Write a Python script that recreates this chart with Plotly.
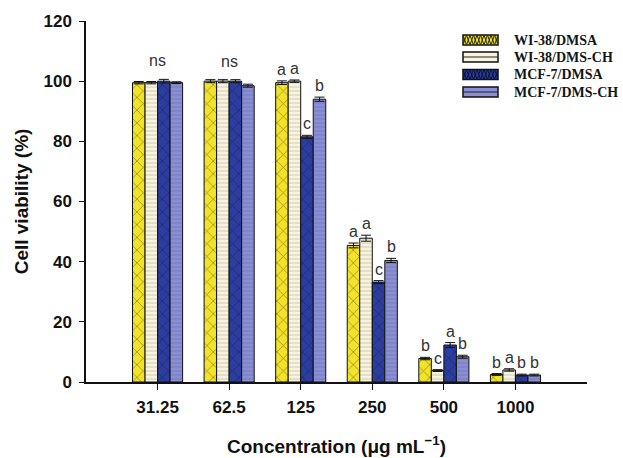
import plotly.graph_objects as go

categories = ["31.25", "62.5", "125", "250", "500", "1000"]
series_names = ["WI-38/DMSA", "WI-38/DMS-CH", "MCF-7/DMSA", "MCF-7/DMS-CH"]
wi38_dmsa = [99.5, 100.0, 99.5, 45.4, 7.8, 2.5]
wi38_dmsch = [99.5, 100.0, 100.0, 47.8, 3.8, 4.0]
mcf7_dmsa = [100.0, 100.0, 81.5, 33.2, 12.3, 2.3]
mcf7_dmsch = [99.5, 98.5, 94.0, 40.4, 8.4, 2.3]
err_wi38_dmsa = [0.4, 0.5, 0.6, 0.8, 0.4, 0.3]
err_wi38_dmsch = [0.4, 0.5, 0.4, 1.0, 0.3, 0.4]
err_mcf7_dmsa = [0.6, 0.5, 0.5, 0.5, 0.8, 0.3]
err_mcf7_dmsch = [0.3, 0.5, 0.7, 0.7, 0.5, 0.3]
letters_wi38_dmsa = ["", "", "a", "a", "b", "b"]
letters_wi38_dmsch = ["", "", "a", "a", "c", "a"]
letters_mcf7_dmsa = ["", "", "c", "c", "a", "b"]
letters_mcf7_dmsch = ["", "", "b", "b", "b", "b"]
group_labels = ["ns", "ns", "", "", "", ""]

values = [wi38_dmsa, wi38_dmsch, mcf7_dmsa, mcf7_dmsch]
errors = [err_wi38_dmsa, err_wi38_dmsch, err_mcf7_dmsa, err_mcf7_dmsch]
letters = [letters_wi38_dmsa, letters_wi38_dmsch, letters_mcf7_dmsa, letters_mcf7_dmsch]

colors = ["#f2e22a", "#f8f3dc", "#2b3d9e", "#8a8ed2"]
pattern_shapes = ["x", "-", "x", "-"]
pattern_fg = ["#2a2a18", "#6a6a60", "#0c1238", "#474b96"]
pattern_size = [9, 4, 9, 4]

W, H = 623, 458
ML, MR, MT, MB = 86, 36, 21, 76
PW, PH = W - ML - MR, H - MT - MB

xpos = list(range(len(categories)))
bargap = 0.30
bar_w = (1 - bargap) / 4

fig = go.Figure()
for k in range(4):
    fig.add_trace(go.Bar(
        x=xpos, y=values[k], name=series_names[k], showlegend=False,
        marker=dict(color=colors[k], line=dict(color="#111111", width=1),
                    pattern=dict(shape=pattern_shapes[k], fgcolor=pattern_fg[k],
                                 size=pattern_size[k], solidity=0.15, fillmode="overlay")),
        error_y=dict(type="data", array=errors[k], visible=True, color="#111111",
                     thickness=1, width=5),
    ))

label_font = dict(family="Liberation Sans, Arial", size=16, color="#333333")
annotations = []
for k in range(4):
    off = -0.5 * (1 - bargap) + bar_w * (k + 0.5)
    for i in range(len(categories)):
        if letters[k][i]:
            annotations.append(dict(
                x=xpos[i] + off, y=values[k][i] + errors[k][i], text=letters[k][i],
                showarrow=False, yanchor="bottom", yshift=1, font=label_font))
for i in range(len(categories)):
    if group_labels[i]:
        top = max(values[k][i] + errors[k][i] for k in range(4))
        annotations.append(dict(
            x=xpos[i], y=top, text=group_labels[i], showarrow=False,
            yanchor="bottom", yshift=8, font=label_font))

# ---- manual legend (paper coords from pixel layout) ----
def px(xp):
    return (xp - ML) / PW

def py(yp):
    return (MT + PH - yp) / PH

shapes = []
leg_x0, leg_x1 = 463, 498
leg_rows = [40, 57, 74.5, 92]
for k in range(4):
    yc = leg_rows[k]
    y0, y1 = yc - 5, yc + 5
    shapes.append(dict(type="rect", xref="paper", yref="paper",
                       x0=px(leg_x0), x1=px(leg_x1), y0=py(y1), y1=py(y0),
                       fillcolor=colors[k], line=dict(color="#111111", width=1.5)))
    if pattern_shapes[k] == "-":
        shapes.append(dict(type="line", xref="paper", yref="paper",
                           x0=px(leg_x0), x1=px(leg_x1), y0=py(yc), y1=py(yc),
                           line=dict(color="#222222", width=1.2)))
    else:
        step = 7.0
        pts_a = []
        pts_b = []
        xx = leg_x0
        j = 0
        while xx <= leg_x1 + 0.01:
            pts_a.append((xx, y0 if j % 2 == 0 else y1))
            pts_b.append((xx, y1 if j % 2 == 0 else y0))
            xx += step / 2
            j += 1
        for pts in (pts_a, pts_b):
            path = "M " + " L ".join(f"{px(a):.5f},{py(b):.5f}" for a, b in pts)
            shapes.append(dict(type="path", xref="paper", yref="paper", path=path,
                               line=dict(color=pattern_fg[k], width=1)))
    annotations.append(dict(xref="paper", yref="paper", x=px(512), y=py(yc),
                            xanchor="left", yanchor="middle", showarrow=False,
                            text="<b>" + series_names[k] + "</b>",
                            font=dict(family="Liberation Serif, Times New Roman", size=14,
                                      color="#151515")))

fig.update_layout(
    width=W, height=H,
    margin=dict(l=ML, r=MR, t=MT, b=MB, autoexpand=False),
    paper_bgcolor="white", plot_bgcolor="white",
    barmode="group", bargap=bargap, bargroupgap=0,
    annotations=annotations, shapes=shapes, showlegend=False,
    xaxis=dict(range=[-1, 6], tickmode="array", tickvals=xpos, ticktext=categories,
               showline=True, linecolor="#111111", linewidth=1.5, ticks="outside",
               ticklen=6, tickcolor="#111111", showgrid=False, zeroline=False,
               ticklabelstandoff=3, automargin=False,
               tickfont=dict(family="Liberation Sans, Arial", size=17, color="#111111", weight="bold"),
               title=dict(text="Concentration (μg mL<sup>−1</sup>)", standoff=24,
                          font=dict(family="Liberation Sans, Arial", size=19, color="#111111", weight="bold"))),
    yaxis=dict(range=[0, 120], tickvals=[0, 20, 40, 60, 80, 100, 120],
               showline=True, linecolor="#111111", linewidth=1.5, ticks="outside",
               ticklen=5, tickcolor="#111111", showgrid=False, zeroline=False,
               ticklabelstandoff=4, automargin=False,
               tickfont=dict(family="Liberation Sans, Arial", size=17, color="#111111", weight="bold"),
               title=dict(text="Cell viability (%)", standoff=10,
                          font=dict(family="Liberation Sans, Arial", size=19, color="#111111", weight="bold"))),
)

fig.write_html("out.html", config={"displayModeBar": False},
               post_script="document.body.style.margin='0';")
